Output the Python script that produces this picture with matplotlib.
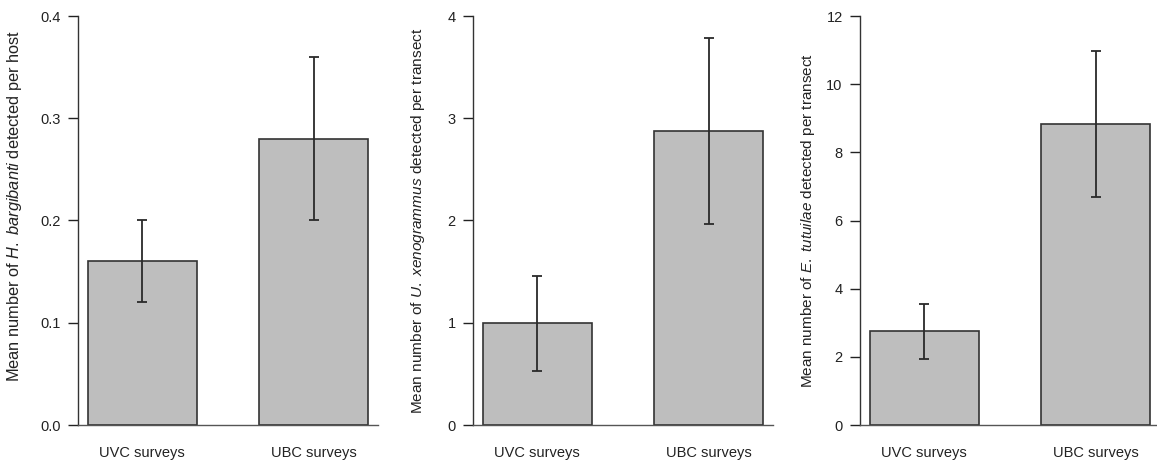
import matplotlib
matplotlib.use("Agg")
import matplotlib.pyplot as plt

plt.rcParams["font.family"] = ["Liberation Sans", "DejaVu Sans"]
plt.rcParams["mathtext.fontset"] = "custom"
plt.rcParams["mathtext.rm"] = "Liberation Sans"
plt.rcParams["mathtext.it"] = "Liberation Sans:italic"

categories = ["UVC surveys", "UBC surveys"]

# mean values and error bar ends
hb_mean = [0.16, 0.28]
hb_low = [0.12, 0.20]
hb_high = [0.20, 0.36]

ux_mean = [1.00, 2.88]
ux_low = [0.53, 1.97]
ux_high = [1.46, 3.78]

et_mean = [2.75, 8.83]
et_low = [1.95, 6.68]
et_high = [3.55, 10.98]

panels = [
    (hb_mean, hb_low, hb_high, 0.4, [0.0, 0.1, 0.2, 0.3, 0.4], "{:.1f}",
     r"Mean number of $\mathit{H.\ bargibanti}$ detected per host"),
    (ux_mean, ux_low, ux_high, 4, [0, 1, 2, 3, 4], "{:d}",
     r"Mean number of $\mathit{U.\ xenogrammus}$ detected per transect"),
    (et_mean, et_low, et_high, 12, [0, 2, 4, 6, 8, 10, 12], "{:d}",
     r"Mean number of $\mathit{E.\ tutuilae}$ detected per transect"),
]

W, H = 1157, 461
fig = plt.figure(figsize=(W / 100, H / 100), dpi=100)

lefts = [78, 473, 860]
label_off = [54, 46, 43]
label_y = [0.535, 0.5, 0.5]
label_size = [11.8, 11.05, 11.0]
edge = "#333333"

for (mean, low, high, top, ticks, fmt, ylab), left, off, ly, ls in zip(
        panels, lefts, label_off, label_y, label_size):
    ax = fig.add_axes([left / W, (H - 425) / H, 300 / W, 409 / H])
    x = range(len(categories))
    ax.bar(x, mean, width=0.635, color="#bebebe", edgecolor=edge, linewidth=1.2, zorder=2)
    err = [[m - l for m, l in zip(mean, low)], [h - m for m, h in zip(mean, high)]]
    ax.errorbar(x, mean, yerr=err, fmt="none", ecolor="#2a2a2a", elinewidth=1.3,
                capsize=3.6, capthick=1.3, zorder=3)
    ax.set_xlim(-0.375, 1.375)
    ax.set_ylim(0, top)
    ax.set_yticks(ticks)
    ax.set_yticklabels([fmt.format(t) for t in ticks])
    ax.set_xticks(list(x))
    ax.set_xticklabels(categories)
    ax.tick_params(axis="x", length=0, pad=15, labelsize=10.5, colors="#222222")
    ax.tick_params(axis="y", length=7.5, width=1.0, pad=5, labelsize=10.5,
                   colors="#222222")
    for s in ["top", "right"]:
        ax.spines[s].set_visible(False)
    ax.spines["left"].set_color(edge)
    ax.spines["bottom"].set_color("#555555")
    ax.spines["left"].set_linewidth(1.0)
    ax.spines["bottom"].set_linewidth(1.0)
    ax.set_ylabel(ylab, fontsize=ls, color="#222222")
    ax.yaxis.set_label_coords(-off / 300, ly)
    ax.patch.set_visible(False)

fig.savefig("out.png", dpi=100)
